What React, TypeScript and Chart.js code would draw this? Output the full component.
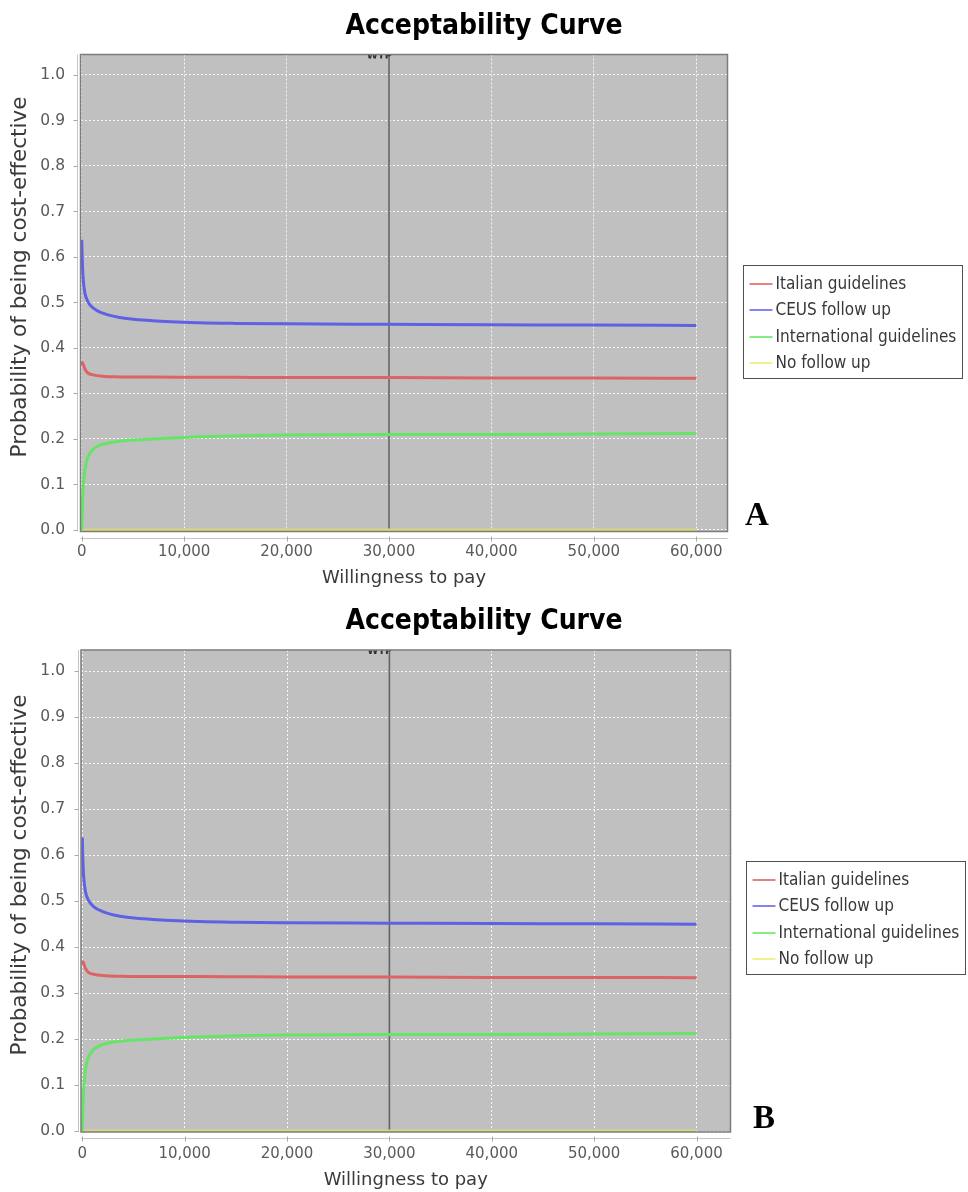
import React, { useEffect, useRef } from 'react';
import { Chart, registerables } from 'chart.js';

Chart.register(...registerables);

// ---------- data ----------
const chartTitle = 'Acceptability Curve';
const xAxisTitle = 'Willingness to pay';
const yAxisTitle = 'Probability of being cost-effective';

const wtp = [0, 50, 130, 300, 600, 1100, 2000, 3700, 6900, 11500, 15000, 20000, 30000, 40000, 50000, 60000];
const italianGuidelines = [0.362, 0.368, 0.365, 0.354, 0.345, 0.341, 0.338, 0.3365, 0.336, 0.3358, 0.3355, 0.335, 0.335, 0.334, 0.334, 0.3335];
const ceusFollowUp = [0.638, 0.595, 0.555, 0.522, 0.502, 0.488, 0.477, 0.467, 0.46, 0.4555, 0.454, 0.453, 0.452, 0.451, 0.4505, 0.4495];
const internationalGuidelines = [0, 0.042, 0.088, 0.132, 0.16, 0.177, 0.188, 0.195, 0.2, 0.205, 0.207, 0.209, 0.21, 0.21, 0.211, 0.212];
const noFollowUp = [0, 0, 0, 0, 0, 0, 0, 0, 0, 0, 0, 0, 0, 0, 0, 0];

const seriesLabels = ['Italian guidelines', 'CEUS follow up', 'International guidelines', 'No follow up'];
const seriesValues = [italianGuidelines, ceusFollowUp, internationalGuidelines, noFollowUp];

const xTickValues = [0, 10000, 20000, 30000, 40000, 50000, 60000];
const yTickValues = [0, 0.1, 0.2, 0.3, 0.4, 0.5, 0.6, 0.7, 0.8, 0.9, 1.0];
const wtpThreshold = 30000;
const thresholdLabel = 'WTP';

// ---------- styles ----------
const lineColors = ['#dc6464', '#6060e4', '#66e466', '#d6d67c'];
const legendColors = ['#e68282', '#8484ec', '#84ec84', '#f2f28c'];
const PLOT_BG = '#c0c0c0';
const CANVAS_W = 968;
const CANVAS_H = 596;

type PanelSpec = {
  letter: string;
  canvasTop: number;
  plotLeft: number;
  plotRight: number;
  plotTop: number;
  plotBottom: number;
  xMin: number;
  xMax: number;
  yMin: number;
  yMax: number;
  titleY: number;
  tickPad: number;
  xTitleFromBottom: number;
  letterDx: number;
  letterDy: number;
};

const panels: PanelSpec[] = [
  { letter: 'A', canvasTop: 0, plotLeft: 80.5, plotRight: 727.5, plotTop: 54.5, plotBottom: 531.5, xMin: -120, xMax: 63050, yMin: -0.0033, yMax: 1.045, titleY: 27, tickPad: 12, xTitleFromBottom: 18, letterDx: 17.5, letterDy: -6.5 },
  { letter: 'B', canvasTop: 596, plotLeft: 81, plotRight: 730.5, plotTop: 54, plotBottom: 536, xMin: -125, xMax: 63320, yMin: -0.002, yMax: 1.0457, titleY: 26, tickPad: 13, xTitleFromBottom: 11.5, letterDx: 22.5, letterDy: -4 },
];

function fontAvailable(family: string): boolean {
  try {
    const ctx = document.createElement('canvas').getContext('2d');
    if (!ctx) return false;
    const sample = 'International guidelines 0123';
    ctx.font = '20px monospace';
    const base = ctx.measureText(sample).width;
    ctx.font = `20px "${family}", monospace`;
    return Math.abs(ctx.measureText(sample).width - base) > 0.5;
  } catch (e) {
    return false;
  }
}

function makeConfig(p: PanelSpec) {
  const condensed = fontAvailable('DejaVu Sans Condensed');
  const SANS = '"DejaVu Sans", "Noto Sans", sans-serif';
  const COND = condensed ? '"DejaVu Sans Condensed", "DejaVu Sans", sans-serif' : SANS;
  const titleSize = condensed ? 28 : 25.5;
  const legendSize = condensed ? 17 : 15;
  const yTitleSize = 21.5;
  const xTitleSize = 18;

  const decor = {
    id: 'decor',
    beforeDraw(chart: any) {
      const { ctx, chartArea: a } = chart;
      ctx.save();
      ctx.fillStyle = PLOT_BG;
      ctx.fillRect(a.left, a.top, a.right - a.left, a.bottom - a.top);
      ctx.restore();
    },
    beforeDatasetsDraw(chart: any) {
      const { ctx, chartArea: a, scales } = chart;
      const mx = scales.x.getPixelForValue(wtpThreshold);
      ctx.save();
      ctx.strokeStyle = '#646464';
      ctx.lineWidth = 1.6;
      ctx.beginPath();
      ctx.moveTo(mx, a.top);
      ctx.lineTo(mx, a.bottom);
      ctx.stroke();
      ctx.beginPath();
      ctx.rect(a.left, a.top, a.right - a.left, 4);
      ctx.clip();
      ctx.fillStyle = '#303030';
      ctx.font = 'bold 10px "DejaVu Sans", sans-serif';
      ctx.textAlign = 'right';
      ctx.textBaseline = 'alphabetic';
      ctx.fillText(thresholdLabel, mx + 3, a.top + 4);
      ctx.restore();
    },
    afterDatasetsDraw(chart: any) {
      const { ctx, chartArea: a, scales } = chart;
      ctx.save();
      ctx.strokeStyle = '#7c7c7c';
      ctx.lineWidth = 1.5;
      ctx.strokeRect(a.left, a.top, a.right - a.left, a.bottom - a.top);
      ctx.strokeStyle = '#c4c4c4';
      ctx.lineWidth = 1;
      const ax = Math.round(a.left - 3.5) + 0.5;
      const ay = Math.round(a.bottom + 6) + 0.5;
      ctx.beginPath();
      ctx.moveTo(ax, a.top);
      ctx.lineTo(ax, a.bottom);
      ctx.moveTo(a.left, ay);
      ctx.lineTo(a.right, ay);
      ctx.stroke();
      ctx.strokeStyle = '#a8a8a8';
      ctx.beginPath();
      yTickValues.forEach((v) => {
        const py = Math.round(scales.y.getPixelForValue(v)) + 0.5;
        ctx.moveTo(ax - 4, py);
        ctx.lineTo(ax, py);
      });
      xTickValues.forEach((v) => {
        const px = Math.round(scales.x.getPixelForValue(v)) + 0.5;
        ctx.moveTo(px, ay - 2);
        ctx.lineTo(px, ay + 3);
      });
      ctx.stroke();
      ctx.restore();
    },
    afterDraw(chart: any) {
      const { ctx, chartArea: a } = chart;
      ctx.save();
      // y axis title (rotated, centred a little above the plot middle as in the original)
      ctx.save();
      ctx.translate(20, (a.top + a.bottom) / 2 - 16);
      ctx.rotate(-Math.PI / 2);
      ctx.fillStyle = '#3a3a3a';
      ctx.font = `${yTitleSize}px ${SANS}`;
      ctx.textAlign = 'center';
      ctx.textBaseline = 'middle';
      ctx.fillText(yAxisTitle, 0, 0);
      ctx.restore();
      // legend box
      const lx = Math.round(a.right + 15.5) + 0.5;
      const ly = Math.round(a.top + 210.5) + 0.5;
      const lw = 219;
      const lh = 113;
      ctx.fillStyle = '#ffffff';
      ctx.fillRect(lx, ly, lw, lh);
      ctx.strokeStyle = '#505050';
      ctx.lineWidth = 1;
      ctx.strokeRect(lx, ly, lw, lh);
      ctx.font = `${legendSize}px ${COND}`;
      ctx.textAlign = 'left';
      ctx.textBaseline = 'middle';
      chart.data.datasets.forEach((ds: any, i: number) => {
        const cy = Math.round(ly + 18 + i * 26.5);
        ctx.strokeStyle = legendColors[i];
        ctx.lineWidth = 2;
        ctx.beginPath();
        ctx.moveTo(lx + 6, cy);
        ctx.lineTo(lx + 29, cy);
        ctx.stroke();
        ctx.fillStyle = '#383838';
        ctx.fillText(ds.label, lx + 32, cy + 1);
      });
      // panel letter
      ctx.fillStyle = '#000000';
      ctx.font = 'bold 33px "Liberation Serif", "DejaVu Serif", serif';
      ctx.textAlign = 'left';
      ctx.textBaseline = 'alphabetic';
      ctx.fillText(p.letter, a.right + p.letterDx, a.bottom + p.letterDy);
      ctx.restore();
    },
  };

  const titleLH = titleSize * 1.2;

  return {
    type: 'line' as const,
    data: {
      datasets: seriesLabels.map((label, i) => ({
        label,
        data: wtp.map((x, j) => ({ x, y: seriesValues[i][j] })),
        borderColor: lineColors[i],
        backgroundColor: lineColors[i],
        borderWidth: 3,
        pointRadius: 0,
        fill: false,
        cubicInterpolationMode: 'monotone' as const,
      })),
    },
    options: {
      animation: false as const,
      responsive: false,
      maintainAspectRatio: false,
      events: [],
      layout: { padding: 0 },
      plugins: {
        legend: { display: false },
        tooltip: { enabled: false },
        title: {
          display: true,
          text: chartTitle,
          color: '#000000',
          font: { family: COND, size: titleSize, weight: 'bold' as const },
          padding: { top: p.titleY - titleLH / 2, bottom: p.plotTop - p.titleY - titleLH / 2 },
        },
      },
      scales: {
        x: {
          type: 'linear' as const,
          min: p.xMin,
          max: p.xMax,
          afterBuildTicks: (s: any) => {
            s.ticks = xTickValues.map((value) => ({ value }));
          },
          afterFit: (s: any) => {
            s.height = CANVAS_H - p.plotBottom;
          },
          ticks: {
            autoSkip: false,
            maxRotation: 0,
            minRotation: 0,
            padding: p.tickPad,
            color: '#5a5a5a',
            font: { family: SANS, size: 15 },
            callback: (v: any) => Number(v).toLocaleString('en-US'),
          },
          grid: { color: 'rgba(255,255,255,0.85)', lineWidth: 1, drawTicks: false },
          border: { display: false, dash: [2, 2] },
          title: {
            display: true,
            text: xAxisTitle,
            color: '#3a3a3a',
            font: { family: SANS, size: xTitleSize },
            padding: { top: 0, bottom: Math.max(0, p.xTitleFromBottom - (xTitleSize * 1.2) / 2) },
          },
        },
        y: {
          type: 'linear' as const,
          min: p.yMin,
          max: p.yMax,
          afterBuildTicks: (s: any) => {
            s.ticks = yTickValues.map((value) => ({ value }));
          },
          afterFit: (s: any) => {
            s.width = p.plotLeft;
          },
          ticks: {
            autoSkip: false,
            padding: p.plotLeft - 65,
            color: '#5a5a5a',
            font: { family: SANS, size: 15.5 },
            callback: (v: any) => Number(v).toFixed(1),
          },
          grid: { color: 'rgba(255,255,255,0.85)', lineWidth: 1, drawTicks: false },
          border: { display: false, dash: [2, 2] },
          title: { display: false },
        },
        // empty right-hand band that holds the legend, so the title stays centred on the whole figure
        side: {
          type: 'linear' as const,
          position: 'right' as const,
          min: 0,
          max: 1,
          afterFit: (s: any) => {
            s.width = CANVAS_W - p.plotRight;
          },
          ticks: { display: false },
          grid: { display: false, drawTicks: false },
          border: { display: false },
          title: { display: false },
        },
      },
    },
    plugins: [decor],
  };
}

function PanelChart({ p }: { p: PanelSpec }) {
  const ref = useRef<HTMLCanvasElement>(null);
  useEffect(() => {
    const canvas = ref.current;
    if (!canvas) return;
    const chart = new Chart(canvas, makeConfig(p) as any);
    return () => chart.destroy();
  }, [p]);
  return (
    <canvas
      ref={ref}
      width={CANVAS_W}
      height={CANVAS_H}
      style={{ position: 'absolute', left: 0, top: p.canvasTop, width: CANVAS_W, height: CANVAS_H, display: 'block' }}
    />
  );
}

export default function App() {
  return (
    <div style={{ position: 'absolute', left: 0, top: 0, width: CANVAS_W, height: CANVAS_H * 2, background: '#ffffff', overflow: 'hidden' }}>
      {panels.map((p) => (
        <PanelChart key={p.letter} p={p} />
      ))}
    </div>
  );
}
